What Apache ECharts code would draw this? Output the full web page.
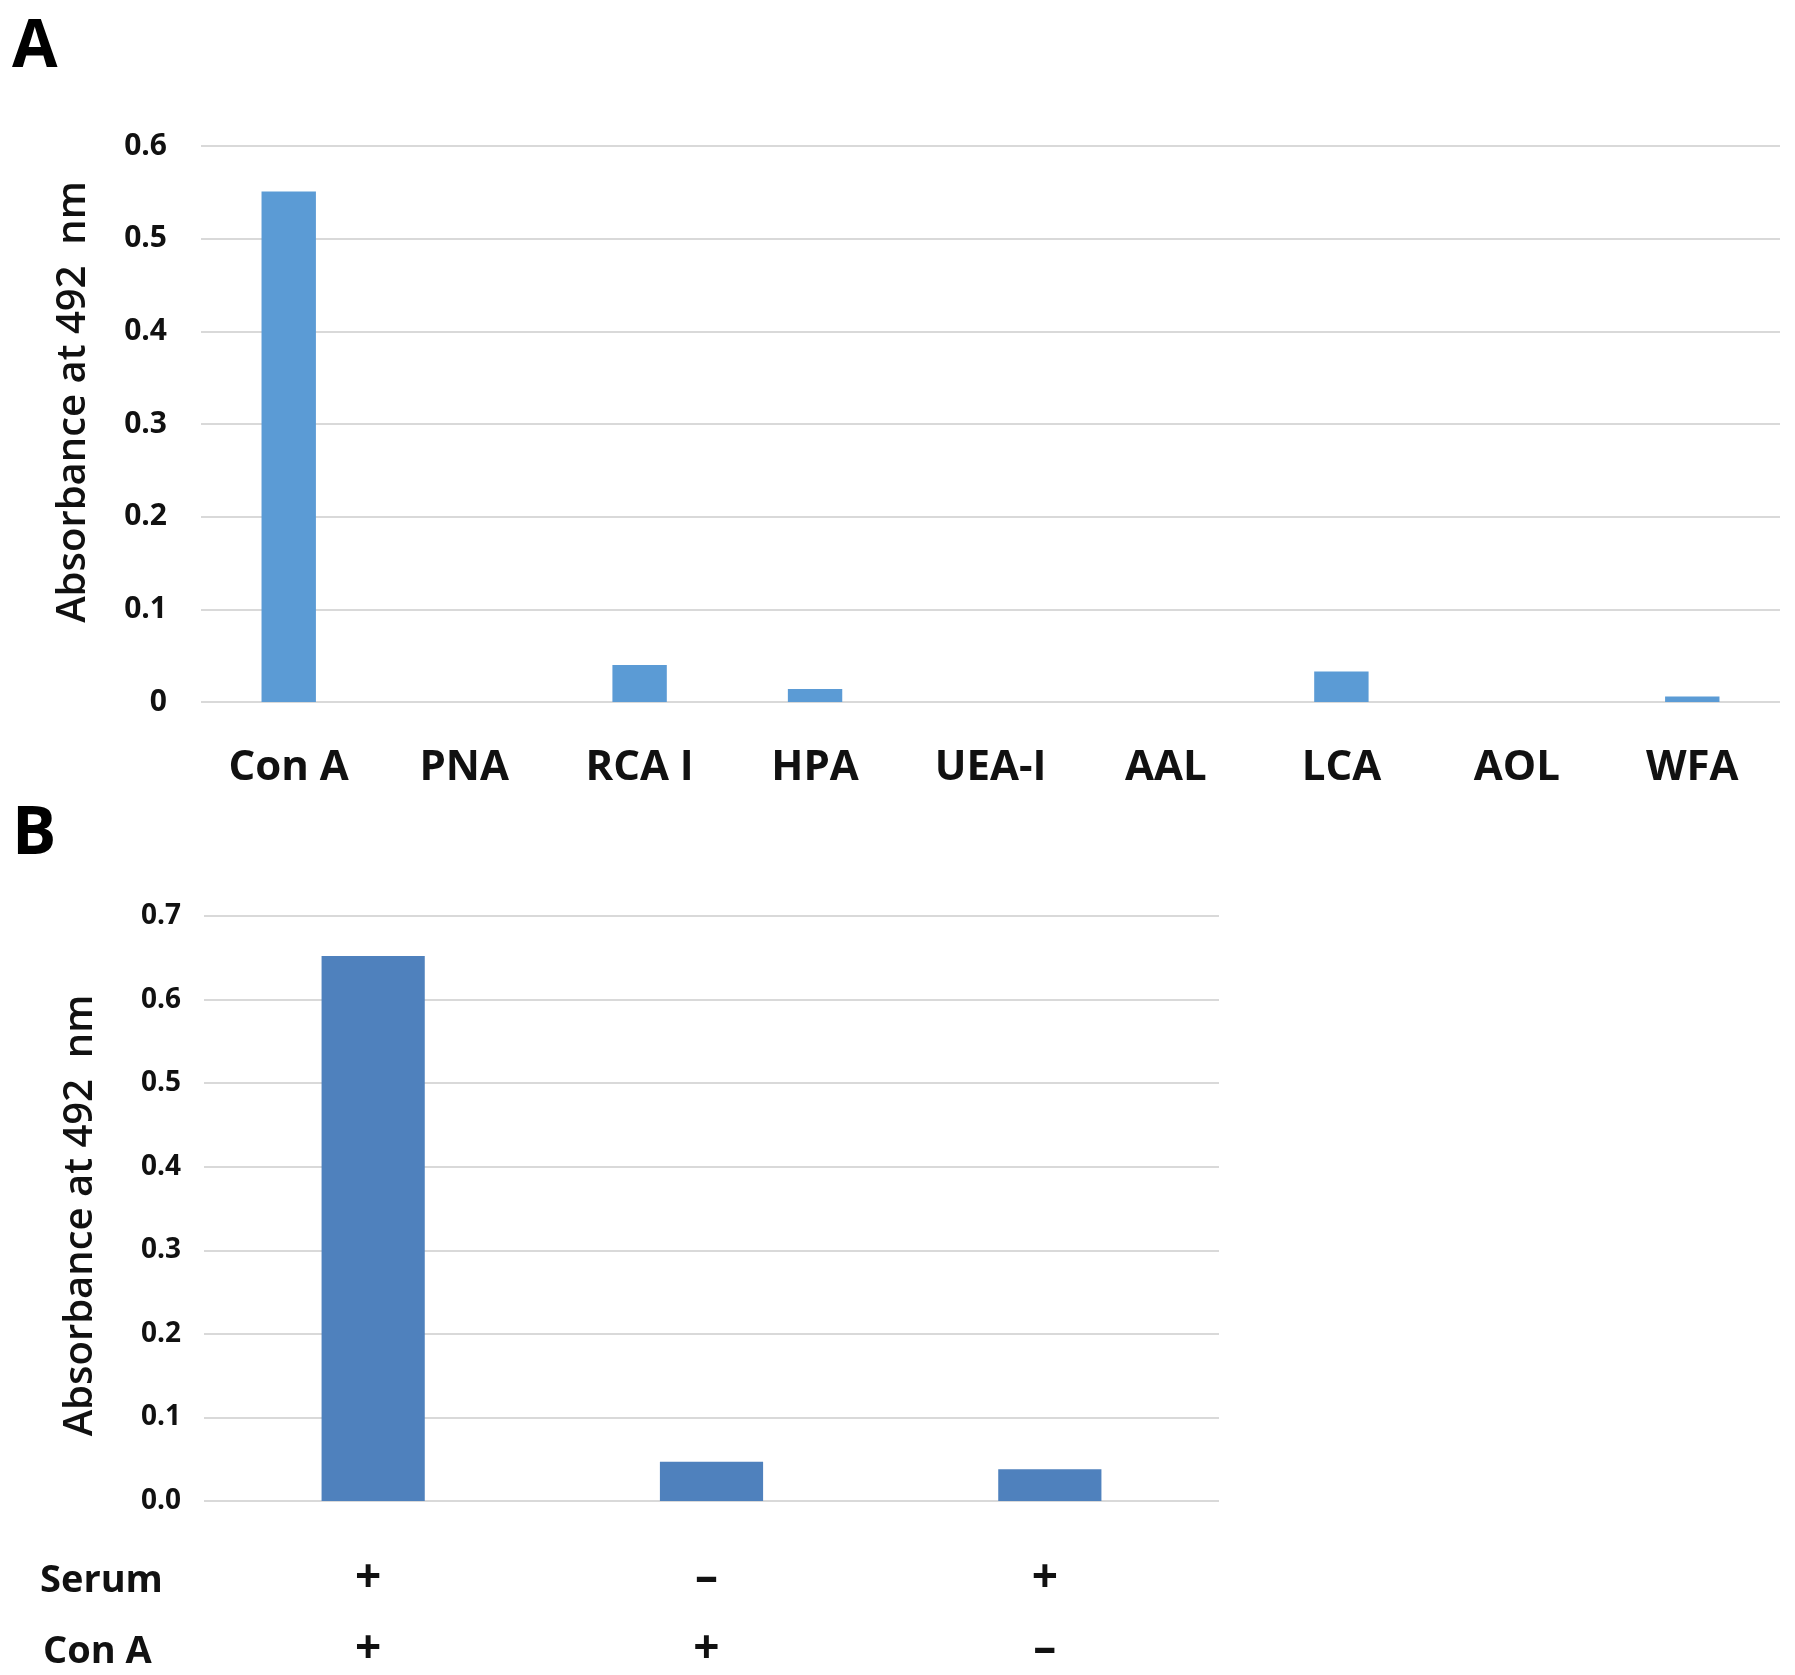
<!DOCTYPE html>
<html>
<head>
<meta charset="utf-8">
<script src="https://cdn.jsdelivr.net/npm/echarts@6/dist/echarts.min.js"></script>
<style>
html,body{margin:0;padding:0;background:#fff;}
#chart{width:1795px;height:1675px;}
</style>
</head>
<body>
<div id="chart"></div>
<script>
// ---- Panel A data ----
var lectins = ['Con A', 'PNA', 'RCA I', 'HPA', 'UEA-I', 'AAL', 'LCA', 'AOL', 'WFA'];
var absorbanceA = [0.551, 0, 0.040, 0.014, 0, 0, 0.033, 0, 0.006];
var yTicksA = ['0', '0.1', '0.2', '0.3', '0.4', '0.5', '0.6'];

// ---- Panel B data ----
var serumRow = ['+', '–', '+'];
var conARow = ['+', '+', '–'];
var absorbanceB = [0.652, 0.047, 0.038];
var yTicksB = ['0.0', '0.1', '0.2', '0.3', '0.4', '0.5', '0.6', '0.7'];

var yName = 'Absorbance at 492  nm';
var FONT = '"Open Sans", "Noto Sans", sans-serif';

var chart = echarts.init(document.getElementById('chart'), null, {renderer: 'canvas'});

var option = {
  backgroundColor: '#ffffff',
  animation: false,
  grid: [
    {left: 201, top: 146, width: 1579, height: 556, outerBoundsMode: 'none', containLabel: false},
    {left: 204, top: 916, width: 1015, height: 585, outerBoundsMode: 'none', containLabel: false}
  ],
  graphic: [
    {type: 'text', left: 12, top: 15, style: {text: 'A', font: 'bold 66px ' + FONT, fill: '#000'}},
    {type: 'text', left: 12, top: 802, style: {text: 'B', font: 'bold 66px ' + FONT, fill: '#000'}},
    {type: 'text', left: 40, top: 1562, style: {text: 'Serum', font: 'bold 38px ' + FONT, fill: '#111'}},
    {type: 'text', left: 43, top: 1633, style: {text: 'Con A', font: 'bold 38px ' + FONT, fill: '#111'}}
  ],
  xAxis: [
    {
      type: 'category', gridIndex: 0, data: lectins,
      axisLine: {show: false}, axisTick: {show: false},
      axisLabel: {margin: 45, color: '#111', fontFamily: FONT, fontWeight: 'bold', fontSize: 42}
    },
    {
      type: 'category', gridIndex: 1,
      data: serumRow.map(function (s, i) { return s + '\n' + conARow[i]; }),
      axisLine: {show: false}, axisTick: {show: false},
      axisLabel: {margin: 42, color: '#111', fontFamily: FONT, fontWeight: 'bold', fontSize: 46, lineHeight: 71,
        padding: [0, 10, 0, 0]}
    }
  ],
  yAxis: [
    {
      type: 'value', gridIndex: 0, min: 0, max: 0.6, interval: 0.1,
      axisLine: {show: false}, axisTick: {show: false},
      splitLine: {show: true, lineStyle: {color: '#d9d9d9', width: 2}},
      axisLabel: {
        margin: 34, color: '#111', fontFamily: FONT, fontWeight: 'bold', fontSize: 30,
        formatter: function (v) { return yTicksA[Math.round(v * 10)]; }
      },
      name: yName, nameLocation: 'middle', nameGap: 107,
      nameTextStyle: {color: '#111', fontFamily: FONT, fontWeight: 600, fontSize: 40, padding: [0, 0, 0, 44]}
    },
    {
      type: 'value', gridIndex: 1, min: 0, max: 0.7, interval: 0.1,
      axisLine: {show: false}, axisTick: {show: false},
      splitLine: {show: true, lineStyle: {color: '#d9d9d9', width: 2}},
      axisLabel: {
        margin: 23, color: '#111', fontFamily: FONT, fontWeight: 'bold', fontSize: 28,
        formatter: function (v) { return yTicksB[Math.round(v * 10)]; }
      },
      name: yName, nameLocation: 'middle', nameGap: 103,
      nameTextStyle: {color: '#111', fontFamily: FONT, fontWeight: 600, fontSize: 40, padding: [0, 14, 0, 0]}
    }
  ],
  series: [
    {
      type: 'bar', xAxisIndex: 0, yAxisIndex: 0, data: absorbanceA,
      barWidth: '31%', itemStyle: {color: '#5b9bd5'}
    },
    {
      type: 'bar', xAxisIndex: 1, yAxisIndex: 1, data: absorbanceB,
      barWidth: '30.5%', itemStyle: {color: '#4f81bd'}
    }
  ]
};
chart.setOption(option);
</script>
</body>
</html>
